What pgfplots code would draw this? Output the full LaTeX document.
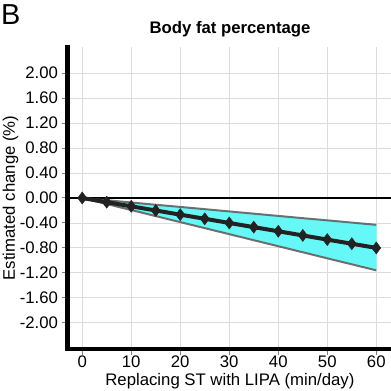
\documentclass[border=0pt]{standalone}
\usepackage{fontspec}
\setmainfont{Liberation Sans}
\usepackage{pgfplots}
\pgfplotsset{compat=1.18}
\definecolor{ribbon}{HTML}{66F7F7}
\definecolor{edgegray}{HTML}{5A5A5A}
\definecolor{dark}{HTML}{222222}
\definecolor{gridgray}{HTML}{DCDCDC}
\begin{document}
\begin{tikzpicture}
\useasboundingbox (0,0) rectangle (391bp,391bp);
\begin{axis}[
  name=ax,
  at={(67.5bp,42bp)}, anchor=south west,
  scale only axis, width=323.5bp, height=302bp,
  xmin=-3, xmax=63, ymin=-2.42, ymax=2.42,
  axis x line*=bottom, axis y line*=left,
  axis line style={line width=4bp, -, line cap=rect},
  xtick={0,10,...,60},
  ytick={-2,-1.6,-1.2,-0.8,-0.4,0,0.4,0.8,1.2,1.6,2},
  yticklabel style={/pgf/number format/.cd, fixed, fixed zerofill, precision=2},
  xticklabel style={yshift=3bp},
  /pgf/number format/assume math mode=true,
  tick align=outside, major tick length=6bp,
  tick style={color=gray, line width=1bp},
  grid=major, major grid style={color=gridgray, line width=0.9bp},
  ticklabel style={font=\fontsize{16.8}{19}\selectfont, text=black},
  xlabel={Replacing ST with LIPA (min/day)},
  ylabel={Estimated change (\%)},
  label style={font=\fontsize{16.8}{19}\selectfont},
  xlabel style={at={(axis description cs:0.502,-0.1225)}, anchor=base},
  ylabel style={at={(axis description cs:-0.176,0.5)}, anchor=center, rotate=0},
  clip=true,
]
\addplot [black, line width=1.3bp] coordinates {(-3,0) (63,0)};
\addplot [fill=ribbon, draw=none] coordinates {
(0,0) (5,-0.036) (10,-0.072) (15,-0.108) (20,-0.143) (25,-0.179) (30,-0.215) (35,-0.251) (40,-0.287) (45,-0.323) (50,-0.358) (55,-0.394) (60,-0.430)
(60,-1.160) (55,-1.063) (50,-0.967) (45,-0.870) (40,-0.773) (35,-0.677) (30,-0.580) (25,-0.483) (20,-0.387) (15,-0.290) (10,-0.193) (5,-0.097) (0,0)
} \closedcycle;
\addplot [edgegray, line width=2bp, opacity=0.85] coordinates {
(0,0) (5,-0.036) (10,-0.072) (15,-0.108) (20,-0.143) (25,-0.179) (30,-0.215) (35,-0.251) (40,-0.287) (45,-0.323) (50,-0.358) (55,-0.394) (60,-0.430)};
\addplot [edgegray, line width=2bp, opacity=0.85] coordinates {
(0,0) (5,-0.097) (10,-0.193) (15,-0.290) (20,-0.387) (25,-0.483) (30,-0.580) (35,-0.677) (40,-0.773) (45,-0.870) (50,-0.967) (55,-1.063) (60,-1.160)};
\addplot [dark, line width=4bp, mark=diamond*, mark size=6bp, mark options={fill=dark, draw=dark, line width=0.5bp}] coordinates {
(0,0) (5,-0.067) (10,-0.133) (15,-0.200) (20,-0.267) (25,-0.333) (30,-0.400) (35,-0.467) (40,-0.533) (45,-0.600) (50,-0.667) (55,-0.733) (60,-0.800)};
\end{axis}
\node[anchor=base west, font=\fontsize{29}{32}\selectfont, inner sep=0pt] at (1bp,366bp) {B};
\node[anchor=base, font=\fontsize{16.8}{19}\selectfont\bfseries, inner sep=0pt] at (230bp,357bp) {Body fat percentage};
\end{tikzpicture}
\end{document}
